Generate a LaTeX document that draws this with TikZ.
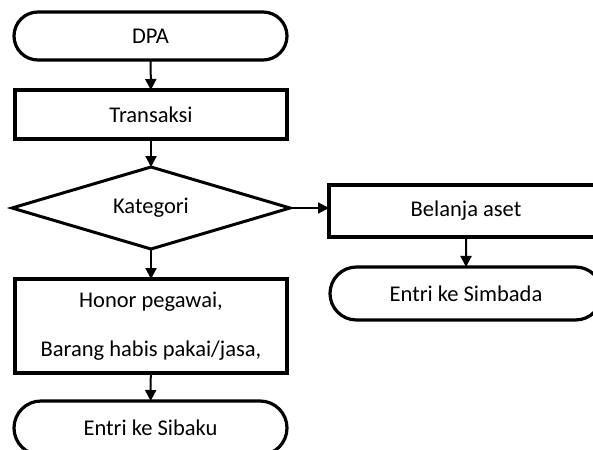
\documentclass[tikz,border=0pt]{standalone}
\usepackage{fontspec}
\setmainfont{Carlito}
\usetikzlibrary{shapes.geometric,shapes.misc,arrows.meta}
\begin{document}
\begin{tikzpicture}[x=1pt,y=1pt,
  every node/.style={font=\fontsize{22.5}{24.5}\selectfont, inner sep=0pt, outer sep=0pt},
  box/.style={draw, line width=3.4pt, rectangle, minimum width=#1, minimum height=49pt},
  term/.style={draw, line width=3.2pt, rounded rectangle, minimum width=#1, minimum height=48pt},
  arr/.style={line width=2pt, -{Triangle[width=11pt,length=11pt]}}
]
\useasboundingbox (0,0) rectangle (593,-449);
\node[term=273pt] (dpa) at (150.5,-36) {DPA};
\node[box=272pt] (trans) at (151,-114.5) {Transaksi};
% decision diamond
\coordinate (katN) at (151,-167);
\coordinate (katS) at (151,-249);
\coordinate (katW) at (12,-208);
\coordinate (katE) at (290,-208);
\draw[line width=3pt, line join=miter] (katN) -- (katE) -- (katS) -- (katW) -- cycle;
\node (kat) at (151,-208) {Kategori};
\node[box=272pt, minimum height=94pt, align=center] (honor) at (151,-326) {Honor pegawai,\\[24.5pt]Barang habis pakai/jasa,};
\node[term=273pt, minimum height=54pt] (sibaku) at (150.5,-428) {Entri ke Sibaku};
\node[box=274pt, minimum height=52pt] (bel) at (466,-211) {Belanja aset};
\node[term=272pt, minimum height=53pt] (simb) at (466,-293.5) {Entri ke Simbada};
\draw[arr] (dpa) -- (trans);
\draw[arr] (trans) -- (katN);
\draw[arr] (katS) -- (honor);
\draw[arr] (honor) -- (sibaku);
\draw[arr] (katE) -- (katE -| bel.west);
\draw[arr] (bel) -- (simb);
\end{tikzpicture}
\end{document}
